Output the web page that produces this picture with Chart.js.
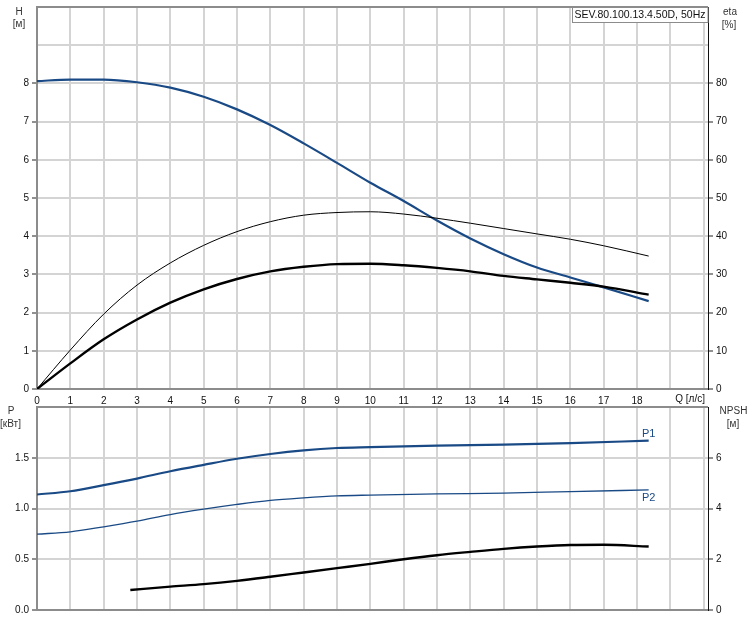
<!DOCTYPE html>
<html>
<head>
<meta charset="utf-8">
<script src="https://cdn.jsdelivr.net/npm/chart.js@4/dist/chart.umd.min.js"></script>
<style>
  body { margin: 0; background: #fff; }
  #wrap { position: relative; width: 751px; height: 619px; }
  #top { position: absolute; left: 0; top: 0; }
  #bottom { position: absolute; left: 0; top: 404px; }
</style>
</head>
<body>
<div id="wrap">
  <canvas id="top" width="751" height="404"></canvas>
  <canvas id="bottom" width="751" height="215"></canvas>
</div>
<script>
// Q-H / eta curves (upper panel)
var qFlow = [0, 1, 2, 3, 4, 5, 6, 7, 8, 9, 10, 11, 12, 13, 14, 15, 16, 17, 18.35];
var headM = [8.06, 8.10, 8.10, 8.03, 7.89, 7.65, 7.32, 6.91, 6.43, 5.92, 5.40, 4.92, 4.41, 3.94, 3.53, 3.18, 2.92, 2.66, 2.30];
var etaPump = [0, 10.2, 19.6, 27.2, 33.0, 37.6, 41.2, 43.8, 45.5, 46.2, 46.4, 45.8, 44.7, 43.4, 42.0, 40.6, 39.2, 37.5, 34.8];
var etaTotal = [0, 6.7, 13.0, 18.2, 22.6, 26.1, 28.8, 30.8, 32.0, 32.7, 32.8, 32.4, 31.7, 30.8, 29.6, 28.7, 27.8, 26.8, 24.7];

// power / NPSH curves (lower panel)
var qPower = [0, 1, 2, 3, 4, 5, 6, 7, 8, 9, 10, 12, 14, 16, 18.35];
var powerP1 = [1.138, 1.17, 1.23, 1.295, 1.367, 1.43, 1.49, 1.537, 1.573, 1.596, 1.605, 1.62, 1.63, 1.645, 1.668];
var powerP2 = [0.747, 0.77, 0.82, 0.875, 0.94, 0.993, 1.04, 1.08, 1.105, 1.124, 1.132, 1.144, 1.152, 1.167, 1.183];
var qNpsh = [2.8, 4, 5, 6, 7, 8, 9, 10, 11, 12, 13, 14, 15, 16, 17, 18.35];
var npshM = [0.79, 0.92, 1.02, 1.15, 1.31, 1.48, 1.65, 1.82, 2.0, 2.16, 2.29, 2.41, 2.5, 2.56, 2.57, 2.5];

// axis ticks
var qTicks = [0, 1, 2, 3, 4, 5, 6, 7, 8, 9, 10, 11, 12, 13, 14, 15, 16, 17, 18, 19, 20];
var qLastLabel = 18;
var qMax = 20.13;

var BLUE = '#1a4a85';
var GRID = '#d4d4d4';
var FONT = { family: 'Liberation Sans, Arial, sans-serif', size: 10 };

function pts(xs, ys) {
    return xs.map(function (x, i) { return { x: x, y: ys[i] }; });
}

function noPad(s) { s.paddingTop = 0; s.paddingBottom = 0; s.paddingLeft = 0; s.paddingRight = 0; }
function fixWidth(w) { return function (s) { s.width = w; noPad(s); }; }
function fixHeight(h) { return function (s) { s.height = h; noPad(s); }; }

function xScale(showLabels, h) {
    return {
        type: 'linear', min: 0, max: qMax,
        afterBuildTicks: function (s) { s.ticks = qTicks.map(function (v) { return { value: v }; }); },
        afterFit: fixHeight(h),
        grid: { color: GRID, lineWidth: 2, drawTicks: false },
        border: { color: '#8c8c8c', width: 2 },
        ticks: {
            display: showLabels, color: '#111', font: FONT, padding: 6, maxRotation: 0, autoSkip: false,
            callback: function (v) { return v <= qLastLabel ? String(v) : ''; }
        }
    };
}

function yScale(pos, max, step, lastLabel, fmt, w) {
    var left = pos === 'left';
    return {
        type: 'linear', position: pos, min: 0, max: max,
        afterFit: fixWidth(w),
        grid: {
            color: GRID, lineWidth: 2, drawOnChartArea: left, tickLength: 5, tickWidth: 1,
            tickColor: function (c) { return c.tick && c.tick.value <= lastLabel ? '#222' : 'rgba(0,0,0,0)'; }
        },
        border: { color: left ? '#8c8c8c' : '#111', width: left ? 2 : 1 },
        ticks: {
            stepSize: step, color: '#111', font: FONT, padding: 3,
            callback: function (v) { return v <= lastLabel ? fmt(v) : ''; }
        }
    };
}

function overlay(texts, box) {
    return {
        id: 'overlay',
        afterDraw: function (chart) {
            var ctx = chart.ctx, a = chart.chartArea;
            ctx.save();
            ctx.strokeStyle = '#8c8c8c';
            ctx.lineWidth = 2;
            ctx.beginPath();
            ctx.moveTo(a.left - 1, a.top);
            ctx.lineTo(a.right, a.top);
            ctx.stroke();
            if (box) {
                ctx.fillStyle = '#fff';
                ctx.fillRect(box.x, a.top, a.right - box.x, 15);
                ctx.strokeStyle = '#8c8c8c';
                ctx.lineWidth = 1;
                ctx.strokeRect(box.x + 0.5, a.top + 0.5, a.right - box.x - 0.5, 15);
                ctx.fillStyle = '#111';
                ctx.font = '10.5px Liberation Sans, Arial, sans-serif';
                ctx.textAlign = 'left';
                ctx.textBaseline = 'middle';
                ctx.fillText(box.text, box.x + 2.5, a.top + 8.5);
            }
            texts.forEach(function (t) {
                ctx.fillStyle = t.color || '#333';
                ctx.font = (t.size || 10) + 'px Liberation Sans, Arial, sans-serif';
                ctx.textAlign = t.align || 'center';
                ctx.textBaseline = 'middle';
                ctx.fillText(t.text, t.x, t.y);
            });
            ctx.restore();
        }
    };
}

var lineBase = { pointRadius: 0, cubicInterpolationMode: 'monotone', fill: false };

new Chart(document.getElementById('top'), {
    type: 'line',
    data: {
        datasets: [
            Object.assign({ label: 'eta', data: pts(qFlow, etaPump), borderColor: '#000', borderWidth: 1, yAxisID: 'yEta' }, lineBase),
            Object.assign({ label: 'eta total', data: pts(qFlow, etaTotal), borderColor: '#000', borderWidth: 2.4, yAxisID: 'yEta' }, lineBase),
            Object.assign({ label: 'H', data: pts(qFlow, headM), borderColor: BLUE, borderWidth: 2.2, yAxisID: 'yH' }, lineBase)
        ]
    },
    options: {
        responsive: false, animation: false, devicePixelRatio: 1,
        layout: { padding: { top: 7, left: 0, right: 0, bottom: 0 } },
        plugins: { legend: { display: false }, tooltip: { enabled: false } },
        scales: {
            x: xScale(true, 15),
            yH: yScale('left', 10, 1, 8, function (v) { return String(v); }, 37),
            yEta: yScale('right', 100, 10, 80, function (v) { return String(v); }, 43)
        }
    },
    plugins: [overlay([
        { text: 'H', x: 19, y: 12 },
        { text: '[м]', x: 19, y: 24.5 },
        { text: 'eta', x: 730, y: 12 },
        { text: '[%]', x: 729, y: 25 },
        { text: 'Q [л/с]', x: 705, y: 399.5, align: 'right', color: '#111' }
    ], { x: 572, text: 'SEV.80.100.13.4.50D, 50Hz' })]
});

new Chart(document.getElementById('bottom'), {
    type: 'line',
    data: {
        datasets: [
            Object.assign({ label: 'NPSH', data: pts(qNpsh, npshM), borderColor: '#000', borderWidth: 2.4, yAxisID: 'yN' }, lineBase),
            Object.assign({ label: 'P2', data: pts(qPower, powerP2), borderColor: BLUE, borderWidth: 1.3, yAxisID: 'yP' }, lineBase),
            Object.assign({ label: 'P1', data: pts(qPower, powerP1), borderColor: BLUE, borderWidth: 2.2, yAxisID: 'yP' }, lineBase)
        ]
    },
    options: {
        responsive: false, animation: false, devicePixelRatio: 1,
        layout: { padding: { top: 3, left: 0, right: 0, bottom: 0 } },
        plugins: { legend: { display: false }, tooltip: { enabled: false } },
        scales: {
            x: xScale(false, 9),
            yP: yScale('left', 2, 0.5, 1.5, function (v) { return v.toFixed(1); }, 37),
            yN: yScale('right', 8, 2, 6, function (v) { return String(v); }, 43)
        }
    },
    plugins: [overlay([
        { text: 'P', x: 11, y: 7 },
        { text: '[кВт]', x: 10.5, y: 20.5 },
        { text: 'NPSH', x: 733.5, y: 7 },
        { text: '[м]', x: 733, y: 20.5 },
        { text: 'P1', x: 642, y: 30, align: 'left', color: BLUE, size: 11 },
        { text: 'P2', x: 642, y: 93.5, align: 'left', color: BLUE, size: 11 }
    ], null)]
});
</script>
</body>
</html>
